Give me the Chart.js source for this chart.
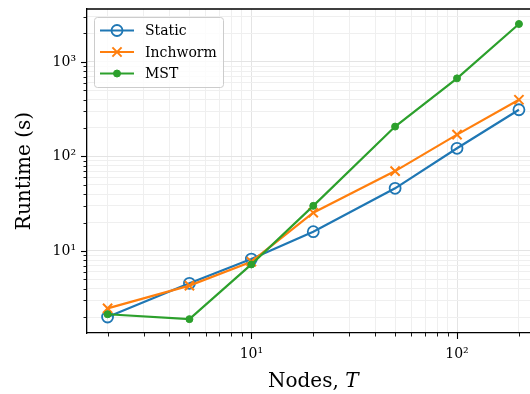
<!DOCTYPE html>
<html><head><meta charset="utf-8">
<script src="https://cdn.jsdelivr.net/npm/chart.js@4/dist/chart.umd.min.js"></script>
<style>html,body{margin:0;padding:0;overflow:hidden;background:#fff}#wrap{width:548px;height:394px}</style>
</head><body><div id="wrap"><canvas id="c" width="548" height="394"></canvas></div>
<script>
const nodes = [2, 5, 10, 20, 50, 100, 200];
const staticRuntime = [2.0, 4.55, 8.2, 16.0, 46, 122, 312];
const inchwormRuntime = [2.47, 4.3, 7.7, 25.4, 70, 170, 398];
const mstRuntime = [2.14, 1.9, 7.2, 30, 207, 670, 2520];
const seriesNames = ['Static', 'Inchworm', 'MST'];
const xTickLabels = {10: '10¹', 100: '10²'};
const yTickLabels = {10: '10¹', 100: '10²', 1000: '10³'};
const xTitle = ['Nodes, ', 'T'];
const yTitle = 'Runtime (s)';

const FONT = "'DejaVu Serif', serif";
const colors = ['#1f77b4', '#ff7f0e', '#2ca02c'];

function pts(ys) { return nodes.map((x, i) => ({x: x, y: ys[i]})); }
function logTicks(min, max) {
  const out = [];
  for (let e = -1; e <= 4; e++) {
    for (let m = 1; m <= 9; m++) {
      const v = Math.round(m * Math.pow(10, e) * 1000) / 1000;
      if (v >= min && v <= max) out.push({value: v, major: m === 1});
    }
  }
  return out;
}
function isMajor(v) { const l = Math.log10(v); return Math.abs(l - Math.round(l)) < 1e-9; }

const styles = [
  {pointStyle: 'circle', pointRadius: 5.5, pointBackgroundColor: 'rgba(0,0,0,0)', pointBorderWidth: 1.8},
  {pointStyle: 'crossRot', pointRadius: 6.5, pointBackgroundColor: colors[1], pointBorderWidth: 2},
  {pointStyle: 'circle', pointRadius: 3.5, pointBackgroundColor: colors[2], pointBorderWidth: 1}
];
const seriesData = [staticRuntime, inchwormRuntime, mstRuntime];

const datasets = seriesNames.map((name, i) => Object.assign({
  label: name,
  data: pts(seriesData[i]),
  borderColor: colors[i],
  pointBorderColor: colors[i],
  backgroundColor: colors[i],
  borderWidth: 2.2,
  fill: false,
  tension: 0,
  order: 2 - i
}, styles[i]));

const X_MIN = Math.pow(10, 0.201), X_MAX = Math.pow(10, 2.401);
const Y_MIN = Math.pow(10, 0.132), Y_MAX = Math.pow(10, 3.56);

const decor = {
  id: 'decor',
  afterDraw(chart) {
    const ctx = chart.ctx, ca = chart.chartArea;
    ctx.save();
    ctx.strokeStyle = '#000'; ctx.lineWidth = 1.3;
    ctx.beginPath();
    ctx.moveTo(ca.left, ca.top); ctx.lineTo(ca.right, ca.top); ctx.lineTo(ca.right, ca.bottom);
    ctx.stroke();
    const xs = chart.scales.x, ys = chart.scales.y;
    xs.ticks.forEach(t => {
      const px = Math.round(xs.getPixelForValue(t.value)) + 0.5;
      const major = isMajor(t.value);
      ctx.lineWidth = major ? 1.1 : 0.9;
      ctx.beginPath(); ctx.moveTo(px, ca.bottom); ctx.lineTo(px, ca.bottom + (major ? 6 : 3.5)); ctx.stroke();
    });
    ys.ticks.forEach(t => {
      const py = Math.round(ys.getPixelForValue(t.value)) + 0.5;
      const major = isMajor(t.value);
      ctx.lineWidth = major ? 1.1 : 0.9;
      ctx.beginPath(); ctx.moveTo(ca.left, py); ctx.lineTo(ca.left - (major ? 6 : 3.5), py); ctx.stroke();
    });
    ctx.fillStyle = '#000';
    ctx.textBaseline = 'alphabetic';
    ctx.font = '20px ' + FONT;
    const w1 = ctx.measureText(xTitle[0]).width;
    ctx.font = 'italic 20px ' + FONT;
    const w2 = ctx.measureText(xTitle[1]).width;
    const cx = (ca.left + ca.right) / 2;
    const x0 = cx - (w1 + w2) / 2;
    ctx.font = '20px ' + FONT;
    ctx.fillText(xTitle[0], x0, 387);
    ctx.font = 'italic 20px ' + FONT;
    ctx.fillText(xTitle[1], x0 + w1, 387);
    const lx = ca.left + 7, ly = ca.top + 8, lw = 129, lh = 70;
    ctx.fillStyle = 'rgba(255,255,255,0.8)';
    ctx.strokeStyle = '#cccccc'; ctx.lineWidth = 1;
    ctx.beginPath();
    ctx.roundRect(lx + 0.5, ly + 0.5, lw, lh, 3);
    ctx.fill(); ctx.stroke();
    chart.data.datasets.forEach((ds, i) => {
      const ry = ly + 13.5 + i * 21.5;
      ctx.strokeStyle = ds.borderColor; ctx.lineWidth = ds.borderWidth;
      ctx.beginPath(); ctx.moveTo(lx + 6, ry); ctx.lineTo(lx + 40, ry); ctx.stroke();
      ctx.fillStyle = ds.pointBackgroundColor;
      ctx.lineWidth = ds.pointBorderWidth;
      Chart.helpers.drawPoint(ctx, {pointStyle: ds.pointStyle, rotation: 0, radius: ds.pointRadius, borderWidth: ds.pointBorderWidth}, lx + 23, ry);
      ctx.fillStyle = '#000';
      ctx.font = '14px ' + FONT;
      ctx.textBaseline = 'middle';
      ctx.fillText(ds.label, lx + 51, ry + 1);
    });
    ctx.restore();
  }
};

const gridColor = c => (c.tick && isMajor(c.tick.value)) ? '#e4e4e4' : '#efefef';

new Chart(document.getElementById('c'), {
  type: 'line',
  data: {datasets: datasets},
  options: {
    responsive: false,
    animation: false,
    events: [],
    layout: {padding: {left: 0, top: 9, right: 6, bottom: 0}},
    plugins: {legend: {display: false}, tooltip: {enabled: false}},
    scales: {
      x: {
        type: 'logarithmic', min: X_MIN, max: X_MAX,
        afterBuildTicks: s => { s.ticks = logTicks(X_MIN, X_MAX); },
        afterFit: s => { s.height = 61; s.paddingLeft = 0; s.paddingRight = 0; },
        ticks: {autoSkip: false, maxRotation: 0, padding: 13, color: '#000',
          font: {family: FONT, size: 14},
          callback: v => xTickLabels[v] || ''},
        grid: {color: gridColor, lineWidth: 1, drawTicks: false},
        border: {display: true, color: '#000', width: 1.3}
      },
      y: {
        type: 'logarithmic', min: Y_MIN, max: Y_MAX,
        afterBuildTicks: s => { s.ticks = logTicks(Y_MIN, Y_MAX); },
        afterFit: s => { s.width = 87; s.paddingTop = 0; s.paddingBottom = 0; },
        ticks: {autoSkip: false, padding: 11, color: '#000',
          font: {family: FONT, size: 14},
          callback: v => yTickLabels[v] || ''},
        grid: {color: gridColor, lineWidth: 1, drawTicks: false},
        border: {display: true, color: '#000', width: 1.3},
        title: {display: true, text: yTitle, color: '#000', font: {family: FONT, size: 20}, padding: {top: 13, bottom: 0}}
      }
    }
  },
  plugins: [decor]
});
</script>
</body></html>
